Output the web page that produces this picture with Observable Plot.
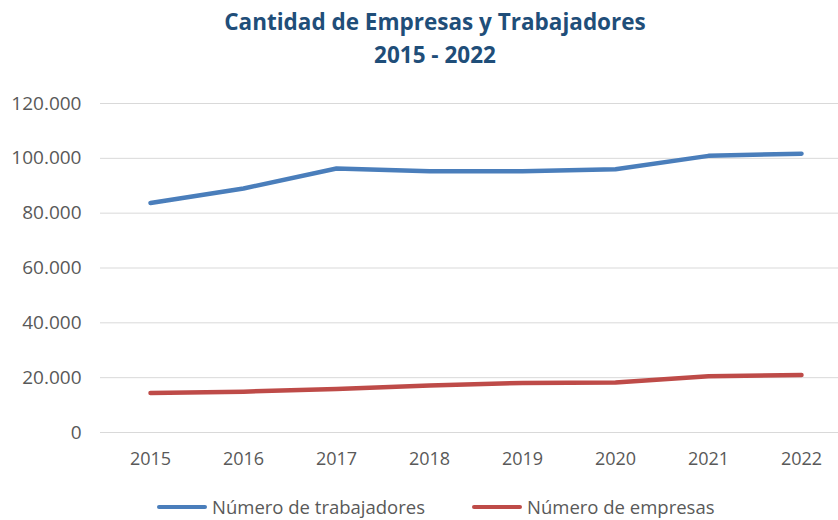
<!DOCTYPE html>
<html>
<head>
<meta charset="utf-8">
<script src="https://cdn.jsdelivr.net/npm/d3@7"></script>
<script src="https://cdn.jsdelivr.net/npm/@observablehq/plot@0.6"></script>
<style>
  body { margin: 0; background: #fff; }
  #wrap { position: relative; width: 838px; height: 520px; font-family: "Open Sans", sans-serif; }
  #title { position: absolute; left: 0; top: 5px; width: 870px; text-align: center; color: #1f4e79; font-weight: bold; font-size: 22.5px; line-height: 33px; }
  #chart { position: absolute; left: 0; top: 80px; }
  .leg { position: absolute; top: 494px; height: 25px; display: flex; align-items: center; font-size: 18.5px; line-height: 25px; color: #595959; white-space: nowrap; }
  .sw { display: inline-block; height: 4px; border-radius: 2px; margin-right: 5px; }
</style>
</head>
<body>
<div id="wrap">
  <div id="title">Cantidad de Empresas y Trabajadores<br>2015 - 2022</div>
  <div id="chart"></div>
  <div class="leg" style="left:157px"><span class="sw" style="width:50px;background:#4a7ebb"></span><span>Número de trabajadores</span></div>
  <div class="leg" style="left:472px"><span class="sw" style="width:50px;background:#be4b48"></span><span>Número de empresas</span></div>
</div>
<script>
const years = ["2015", "2016", "2017", "2018", "2019", "2020", "2021", "2022"];
const trabajadores = [83700, 89000, 96300, 95300, 95300, 96000, 100900, 101700];
const empresas = [14400, 14900, 15900, 17100, 18100, 18200, 20500, 21000];
const yTicks = [0, 20000, 40000, 60000, 80000, 100000, 120000];
const seriesNames = ["Número de trabajadores", "Número de empresas"];
const seriesColors = ["#4a7ebb", "#be4b48"];

const rows = [];
years.forEach((y, i) => rows.push({year: y, value: trabajadores[i], series: seriesNames[0]}));
years.forEach((y, i) => rows.push({year: y, value: empresas[i], series: seriesNames[1]}));

const fmt = d3.formatLocale({decimal: ",", thousands: ".", grouping: [3], currency: ["", ""]}).format(",d");

const chart = Plot.plot({
  width: 838,
  height: 400,
  marginTop: 23,
  marginBottom: 48,
  marginLeft: 100,
  marginRight: 0,
  style: {fontFamily: "Open Sans, sans-serif", fontSize: "18px", color: "#595959", background: "transparent"},
  x: {type: "point", domain: years, range: [148, 803], padding: 0, label: null},
  y: {domain: [0, 120000], label: null},
  color: {domain: seriesNames, range: seriesColors},
  marks: [
    Plot.ruleY(yTicks, {stroke: "#d9d9d9", strokeWidth: 1}),
    Plot.axisY({ticks: yTicks, tickFormat: fmt, tickSize: 0, tickPadding: 19, label: null, fill: "#595959", fontSize: 19}),
    Plot.axisX({tickSize: 0, tickPadding: 20, label: null, fill: "#595959", fontSize: 18}),
    Plot.line(rows, {x: "year", y: "value", z: "series", stroke: "series", strokeWidth: 4.5, strokeLinecap: "round", strokeLinejoin: "round"})
  ]
});
document.getElementById("chart").appendChild(chart);
</script>
</body>
</html>
